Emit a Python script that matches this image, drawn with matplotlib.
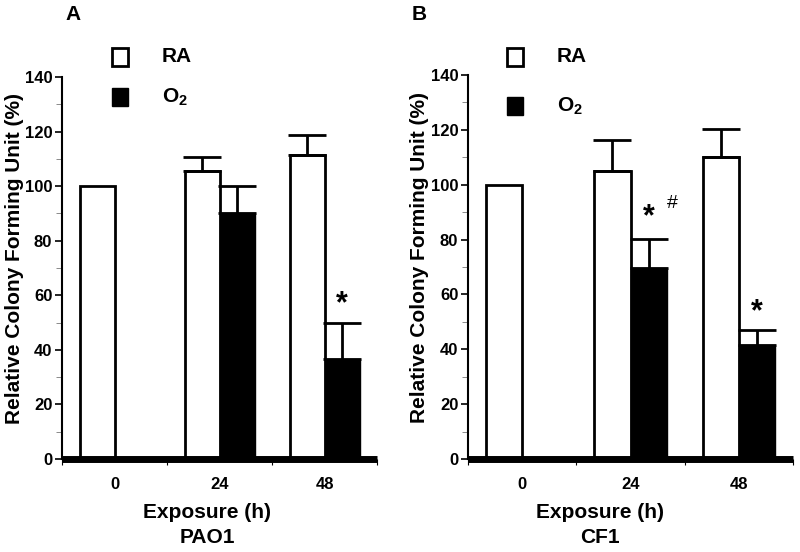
import matplotlib
matplotlib.use("Agg")
import matplotlib.pyplot as plt
from matplotlib.patches import Rectangle
import numpy as np

plt.rcParams['font.family'] = ['Liberation Sans', 'DejaVu Sans']
plt.rcParams['font.weight'] = 'bold'
plt.rcParams['mathtext.fontset'] = 'custom'
plt.rcParams['mathtext.bf'] = 'Liberation Sans:bold'
plt.rcParams['mathtext.rm'] = 'Liberation Sans:bold'

categories = ['0', '24', '48']
series_names = ['RA', 'O$_2$']

# Panel A (PAO1)
a_ra = [100, 105.5, 111.3]
a_ra_err = [0, 5.2, 7.4]
a_o2 = [0, 90.3, 36.6]
a_o2_err = [0, 9.9, 13.2]

# Panel B (CF1)
b_ra = [100, 105, 110.1]
b_ra_err = [0, 11.3, 10.2]
b_o2 = [0, 69.7, 41.6]
b_o2_err = [0, 10.5, 5.4]

yticks = [0, 20, 40, 60, 80, 100, 120, 140]

fig = plt.figure(figsize=(8, 5.52), dpi=100)
W, H = 800, 552

def px_axes(l, t, r, b):
    return fig.add_axes([l / W, 1 - b / H, (r - l) / W, (b - t) / H])

axA = px_axes(62, 77, 377, 459)
axB = px_axes(468, 75, 793, 459)

bw = 1 / 3

def draw(ax, ra, ra_err, o2, o2_err, strain, xc, ylab_x):
    x = np.arange(len(categories))
    ax.bar(x - bw / 2, ra, width=bw, color='white', edgecolor='black', linewidth=2, zorder=2)
    ax.bar(x + bw / 2, o2, width=bw, color='black', edgecolor='black', linewidth=1, zorder=2)
    for xi, v, e in zip(x - bw / 2, ra, ra_err):
        if e > 0:
            ax.errorbar(xi, v, yerr=[[0], [e]], color='black', lw=2, capsize=14, capthick=2, zorder=3)
    for xi, v, e in zip(x + bw / 2, o2, o2_err):
        if e > 0:
            ax.errorbar(xi, v, yerr=[[0], [e]], color='black', lw=2, capsize=14, capthick=2, zorder=3)
    ax.set_xlim(-0.5, 2.5)
    ax.set_ylim(0, 140)
    ax.set_yticks(yticks)
    ax.set_yticks(np.arange(0, 141, 10), minor=True)
    ax.set_yticklabels([str(t) for t in yticks], fontsize=12, fontweight='bold')
    ax.set_xticks(x)
    ax.set_xticklabels(categories, fontsize=12, fontweight='bold')
    ax.set_xticks(np.arange(-0.5, 2.6, 1), minor=True)
    ax.tick_params(axis='x', which='major', length=0, pad=13)
    ax.tick_params(axis='x', which='minor', length=4, width=0.8, direction='out')
    ax.tick_params(axis='y', which='major', length=5, width=1.2, direction='out', pad=2)
    ax.tick_params(axis='y', which='minor', length=4, width=0.6, direction='out', color='#777777')
    for s in ['top', 'right']:
        ax.spines[s].set_visible(False)
    ax.spines['left'].set_linewidth(1.5)
    ax.spines['bottom'].set_linewidth(5)
    ax.spines['bottom'].set_capstyle('butt')
    ax.spines['bottom'].set_zorder(4)
    ax.set_ylabel('Relative Colony Forming Unit (%)', fontsize=15, fontweight='bold')
    ax.yaxis.set_label_coords(ylab_x, 0.525)
    ax.text(xc, -0.139, 'Exposure (h)', transform=ax.transAxes, ha='center', va='center',
            fontsize=15, fontweight='bold')
    ax.text(xc, -0.205, strain, transform=ax.transAxes, ha='center', va='center',
            fontsize=15, fontweight='bold')

draw(axA, a_ra, a_ra_err, a_o2, a_o2_err, 'PAO1', 0.46, -0.122)
draw(axB, b_ra, b_ra_err, b_o2, b_o2_err, 'CF1', 0.406, -0.121)

# significance marks
axA.text(2 + bw / 2, a_o2[2] + a_o2_err[2] + 7, '*', ha='center', va='center', fontsize=22, fontweight='bold')
axB.text(1 + bw / 2, b_o2[1] + b_o2_err[1] + 8, '*', ha='center', va='center', fontsize=22, fontweight='bold')
axB.text(1 + bw / 2 + 0.22, b_o2[1] + b_o2_err[1] + 13, '#', ha='center', va='center', fontsize=14, fontweight='normal')
axB.text(2 + bw / 2, b_o2[2] + b_o2_err[2] + 6.5, '*', ha='center', va='center', fontsize=22, fontweight='bold')

# legends (figure pixel positions)
def legend(x0, y_ra, y_o2):
    fig.patches.append(Rectangle((x0 / W, 1 - (y_ra + 9) / H), 16 / W, 18 / H, transform=fig.transFigure,
                                 facecolor='white', edgecolor='black', linewidth=2))
    fig.patches.append(Rectangle((x0 / W, 1 - (y_o2 + 9) / H), 16 / W, 18 / H, transform=fig.transFigure,
                                 facecolor='black', edgecolor='black', linewidth=1))
    fig.text((x0 + 50) / W, 1 - y_ra / H, series_names[0], ha='left', va='center', fontsize=15, fontweight='bold')
    fig.text((x0 + 50) / W, 1 - y_o2 / H, r'O$_\mathbf{2}$', ha='left', va='center', fontsize=15, fontweight='bold')

legend(112, 57, 97)
legend(507, 57, 106)

fig.text(65 / W, 1 - 15 / H, 'A', ha='left', va='center', fontsize=15, fontweight='bold')
fig.text(412 / W, 1 - 15 / H, 'B', ha='left', va='center', fontsize=15, fontweight='bold')

fig.savefig('out.png', dpi=100)
